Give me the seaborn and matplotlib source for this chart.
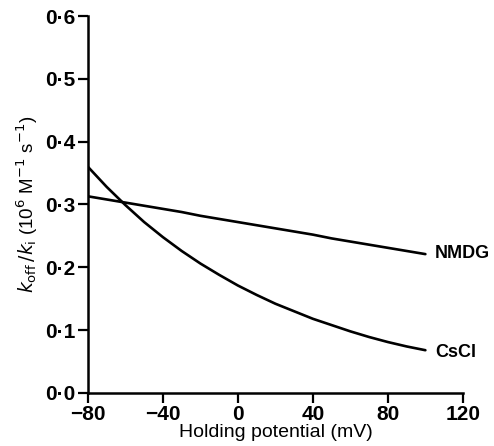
import numpy as np
import pandas as pd
import matplotlib
matplotlib.use("Agg")
import matplotlib.pyplot as plt
import seaborn as sns

# Values
potential = [-80, -70, -60, -50, -40, -30, -20, -10, 0, 10,
             20, 30, 40, 50, 60, 70, 80, 90, 100]
cscl = [0.360, 0.328, 0.299, 0.272, 0.248, 0.226, 0.206, 0.188, 0.171, 0.156,
        0.142, 0.130, 0.118, 0.108, 0.098, 0.089, 0.081, 0.074, 0.068]
nmdg = [0.313, 0.308, 0.303, 0.298, 0.293, 0.288, 0.282, 0.277, 0.272, 0.267,
        0.262, 0.257, 0.252, 0.246, 0.241, 0.236, 0.231, 0.226, 0.221]
xticks = [-80, -40, 0, 40, 80, 120]
yticks = [0.0, 0.1, 0.2, 0.3, 0.4, 0.5, 0.6]

df = pd.DataFrame({"potential": potential * 2,
                   "ratio": cscl + nmdg,
                   "solution": ["CsCl"] * len(cscl) + ["NMDG"] * len(nmdg)})

sns.set_style("ticks", {"text.color": "black", "axes.labelcolor": "black",
                        "xtick.color": "black", "ytick.color": "black"})
plt.rcParams["font.family"] = ["Liberation Sans", "DejaVu Sans"]

fig = plt.figure(figsize=(4.94, 4.46), dpi=100)
ax = fig.add_axes([0.178, 0.119, 0.759, 0.845])

sns.lineplot(data=df, x="potential", y="ratio", hue="solution",
             palette={"CsCl": "black", "NMDG": "black"}, linewidth=1.9,
             legend=False, ax=ax)

ax.set_xlim(-80, 120)
ax.set_ylim(0, 0.6)
ax.set_xticks(xticks)
ax.set_xticklabels(["\u2212%d" % -t if t < 0 else "%d" % t for t in xticks],
                   fontsize=15, fontweight="bold")
ax.set_yticks(yticks)
ax.set_yticklabels([("%.1f" % t).replace(".", "\u00b7") for t in yticks],
                   fontsize=15, fontweight="bold")
ax.tick_params(direction="out", length=7, width=1.6, colors="black", pad=2)

sns.despine(ax=ax)
for s in ["left", "bottom"]:
    ax.spines[s].set_linewidth(1.8)
    ax.spines[s].set_color("black")

ax.set_xlabel("Holding potential (mV)", fontsize=14, labelpad=0)
ax.set_ylabel(r"$k_{\rm off}\,/k_{\rm i}$ (10$^{6}$ M$^{-1}$ s$^{-1}$)",
              fontsize=13.5, labelpad=4)

ax.text(105, 0.222, "NMDG", fontsize=13, fontweight="bold", va="center")
ax.text(105, 0.064, "CsCl", fontsize=13, fontweight="bold", va="center")

fig.savefig("out.png", dpi=100)
